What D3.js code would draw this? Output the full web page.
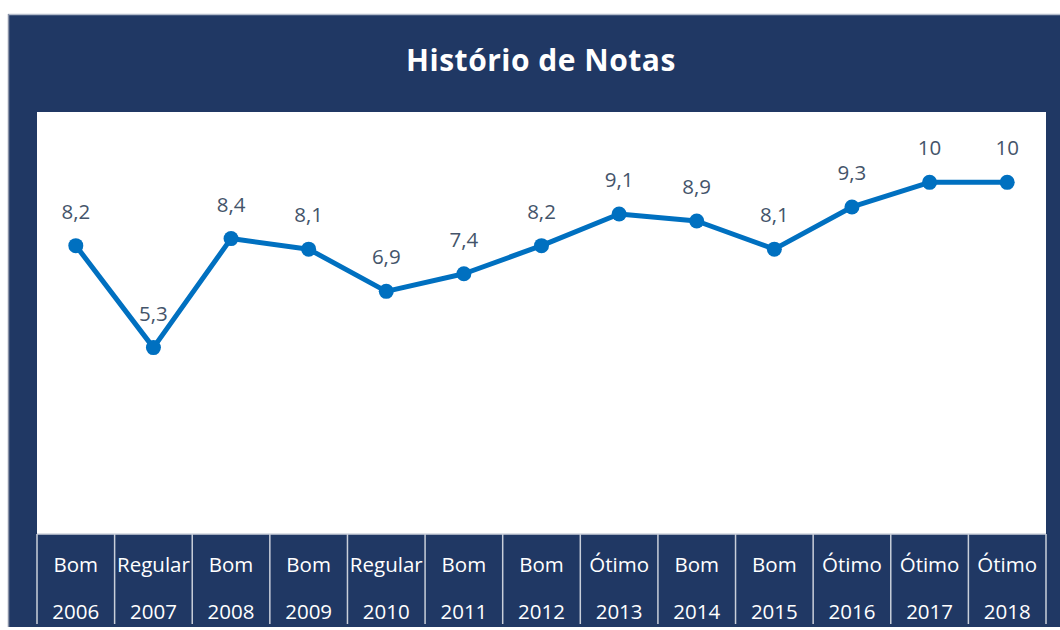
<!DOCTYPE html>
<html>
<head>
<meta charset="utf-8">
<script src="https://cdn.jsdelivr.net/npm/d3@7"></script>
<style>
  body { margin: 0; background: #fff; }
  svg { display: block; }
  .title { font-family: "Open Sans", sans-serif; font-weight: bold; font-size: 30px; letter-spacing: 0.5px; fill: #fff; }
  .dlabel { font-family: "Open Sans", sans-serif; font-size: 20.5px; fill: #44546A; }
  .cat { font-family: "Open Sans", sans-serif; font-size: 20.5px; fill: #fff; }
</style>
</head>
<body>
<script>
// chart data
var years = ['2006', '2007', '2008', '2009', '2010', '2011', '2012', '2013', '2014', '2015', '2016', '2017', '2018']
var grades = ['Bom', 'Regular', 'Bom', 'Bom', 'Regular', 'Bom', 'Bom', 'Ótimo', 'Bom', 'Bom', 'Ótimo', 'Ótimo', 'Ótimo']
var notas = [8.2, 5.3, 8.4, 8.1, 6.9, 7.4, 8.2, 9.1, 8.9, 8.1, 9.3, 10, 10]

var width = 1060, height = 630
var plotLeft = 37, plotRight = 1046, plotTop = 112, plotBottom = 534
var catBottom = 624
var navy = '#203864'
var lineColor = '#0070C0'

var svg = d3.select('body').append('svg')
    .attr('width', width)
    .attr('height', height)

// frame
svg.append('rect')
    .attr('x', 8).attr('y', 15)
    .attr('width', width - 8).attr('height', 612)
    .attr('fill', navy)
svg.append('line')
    .attr('x1', 8).attr('x2', width).attr('y1', 14.5).attr('y2', 14.5)
    .attr('stroke', '#b4bccb').attr('stroke-width', 1.5)
svg.append('line')
    .attr('x1', 8.5).attr('x2', 8.5).attr('y1', 14).attr('y2', 627)
    .attr('stroke', '#8a93a8').attr('stroke-width', 1.5)

svg.append('text')
    .text('Histório de Notas')
    .attr('class', 'title')
    .attr('x', 541)
    .attr('y', 71)
    .attr('text-anchor', 'middle')

// plot area
svg.append('rect')
    .attr('x', plotLeft).attr('y', plotTop)
    .attr('width', plotRight - plotLeft).attr('height', plotBottom - plotTop)
    .attr('fill', '#fff')

var x = d3.scaleBand()
    .domain(years)
    .range([plotLeft, plotRight])

var y = d3.scaleLinear()
    .domain([0, 12])
    .range([plotBottom, plotTop])

var data = years.map(function (d, i) {
    return { year: d, grade: grades[i], nota: notas[i] }
})

var cx = function (d) { return x(d.year) + x.bandwidth() / 2 }

// category table
var cat = svg.append('g')
cat.append('line')
    .attr('x1', plotLeft).attr('x2', plotRight)
    .attr('y1', plotBottom).attr('y2', plotBottom)
    .attr('stroke', '#d0d5de').attr('stroke-width', 1.5)
cat.selectAll('.sep')
    .data(years.concat(['end']))
    .enter().append('line')
    .attr('x1', function (d) { return d == 'end' ? plotRight : x(d) })
    .attr('x2', function (d) { return d == 'end' ? plotRight : x(d) })
    .attr('y1', plotBottom)
    .attr('y2', catBottom)
    .attr('stroke', '#c9cfda')
    .attr('stroke-width', 1.5)

cat.selectAll('.grade')
    .data(data)
    .enter().append('text')
    .attr('class', 'cat')
    .attr('x', cx)
    .attr('y', 572)
    .attr('text-anchor', 'middle')
    .text(function (d) { return d.grade })

cat.selectAll('.year')
    .data(data)
    .enter().append('text')
    .attr('class', 'cat')
    .attr('x', cx)
    .attr('y', 619)
    .attr('text-anchor', 'middle')
    .text(function (d) { return d.year })

// line + markers
svg.append('path')
    .datum(data)
    .attr('fill', 'none')
    .attr('stroke', lineColor)
    .attr('stroke-width', 5)
    .attr('stroke-linejoin', 'round')
    .attr('d', d3.line()
        .x(cx)
        .y(function (d) { return y(d.nota) }))

svg.selectAll('.pt')
    .data(data)
    .enter().append('circle')
    .attr('cx', cx)
    .attr('cy', function (d) { return y(d.nota) })
    .attr('r', 7.5)
    .attr('fill', lineColor)

svg.selectAll('.dlabel')
    .data(data)
    .enter().append('text')
    .attr('class', 'dlabel')
    .attr('x', cx)
    .attr('y', function (d) { return y(d.nota) - 27 })
    .attr('text-anchor', 'middle')
    .text(function (d) { return String(d.nota).replace('.', ',') })
</script>
</body>
</html>
